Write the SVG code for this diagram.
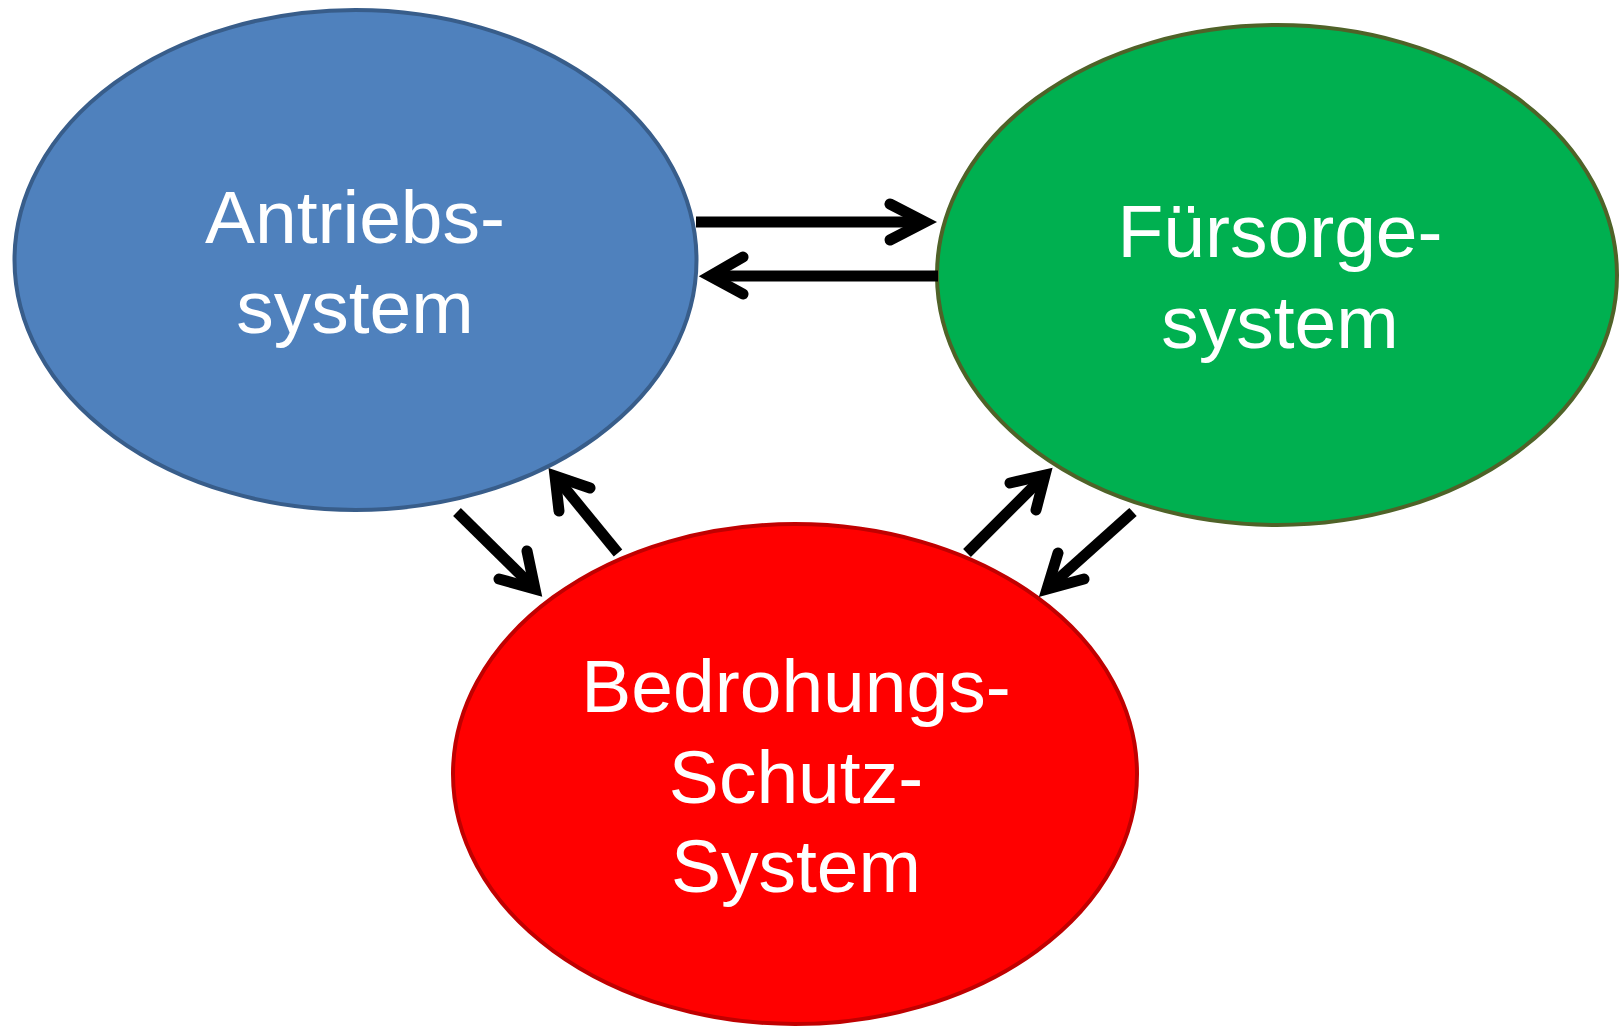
<svg xmlns="http://www.w3.org/2000/svg" width="1623" height="1026" viewBox="0 0 1623 1026">
<style>
.lbl{font-family:"Liberation Sans",Arial,sans-serif;font-size:75px;fill:#fff;text-anchor:middle}
.ar{fill:none;stroke:#000;stroke-width:11;stroke-linecap:round;stroke-linejoin:miter}
.ar .ln{stroke-linecap:butt}
</style>
<rect width="1623" height="1026" fill="#fff"/>
<g id="antrieb">
<ellipse cx="355.5" cy="260" rx="341" ry="250" fill="#4F81BD" stroke="#385D8A" stroke-width="4"/>
<text class="lbl" x="355" y="243">Antriebs-</text>
<text class="lbl" x="355" y="333">system</text>
</g>
<g id="fuersorge">
<ellipse cx="1277" cy="275" rx="340" ry="250" fill="#00B050" stroke="#4F6228" stroke-width="4"/>
<text class="lbl" x="1280" y="257">Fürsorge-</text>
<text class="lbl" x="1280" y="348">system</text>
</g>
<g id="bedrohung">
<ellipse cx="795" cy="774" rx="342" ry="250" fill="#FF0000" stroke="#C00000" stroke-width="4"/>
<text class="lbl" x="796" y="712">Bedrohungs-</text>
<text class="lbl" x="796" y="803">Schutz-</text>
<text class="lbl" x="796" y="892">System</text>
</g>
<g id="connectors" class="ar">
<line class="ln" x1="696" y1="222" x2="925" y2="222"/>
<polyline points="890,204 925,222 890,240"/>
<line class="ln" x1="938" y1="276" x2="710" y2="276"/>
<polyline points="743,257 710,276 743,294"/>
<line class="ln" x1="457" y1="512" x2="535" y2="589"/>
<polyline points="499,579 535,589 527,551"/>
<line class="ln" x1="618" y1="553" x2="555" y2="476"/>
<polyline points="559,511 555,476 590,488"/>
<line class="ln" x1="967" y1="553" x2="1045" y2="475"/>
<polyline points="1010,483 1045,475 1036,510"/>
<line class="ln" x1="1133" y1="512" x2="1047" y2="589"/>
<polyline points="1058,553 1047,589 1084,579"/>
</g>
</svg>
